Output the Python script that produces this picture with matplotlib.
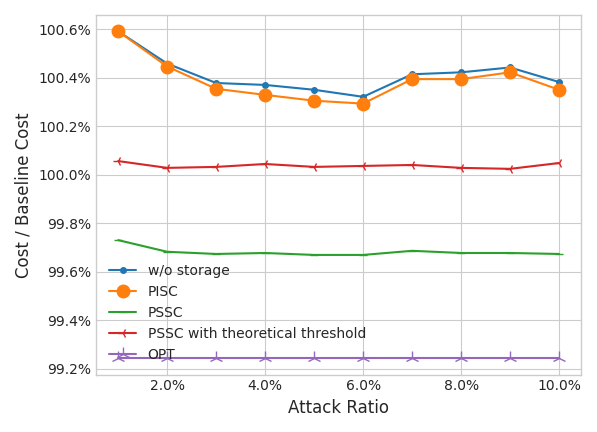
import numpy as np
import matplotlib
matplotlib.use('Agg')
import matplotlib.pyplot as plt
from matplotlib.ticker import FuncFormatter

plt.style.use('seaborn-v0_8-whitegrid')
plt.rcParams['font.family'] = ['DejaVu Sans']

ratio = [0.01, 0.02, 0.03, 0.04, 0.05, 0.06, 0.07, 0.08, 0.09, 0.10]
wo_storage = [100.592, 100.459, 100.379, 100.371, 100.351, 100.322, 100.415, 100.423, 100.443, 100.383]
pisc = [100.592, 100.447, 100.355, 100.330, 100.306, 100.294, 100.395, 100.395, 100.423, 100.351]
pssc = [99.731, 99.683, 99.674, 99.678, 99.670, 99.670, 99.687, 99.678, 99.678, 99.674]
pssc_theory = [100.057, 100.029, 100.033, 100.045, 100.033, 100.037, 100.041, 100.029, 100.025, 100.049]
opt = [99.244] * 10

fig, ax = plt.subplots(figsize=(5.97, 4.32), dpi=100)
ax.plot(ratio, np.array(wo_storage) / 100, marker='.', markersize=8, label='w/o storage')
ax.plot(ratio, np.array(pisc) / 100, marker='o', markersize=9, label='PISC')
ax.plot(ratio, np.array(pssc) / 100, marker='_', markersize=6, label='PSSC')
ax.plot(ratio, np.array(pssc_theory) / 100, marker='3', markersize=7, label='PSSC with theoretical threshold')
ax.plot(ratio, np.array(opt) / 100, marker='2', markersize=10, label='OPT')

ax.xaxis.set_major_formatter(FuncFormatter(lambda v, p: '%.1f%%' % (v * 100)))
ax.yaxis.set_major_formatter(FuncFormatter(lambda v, p: '%.1f%%' % (v * 100)))
ax.set_xticks([0.02, 0.04, 0.06, 0.08, 0.10])
ax.set_yticks(np.arange(0.992, 1.0061, 0.002))
ax.set_xlabel('Attack Ratio', fontsize=12)
ax.set_ylabel('Cost / Baseline Cost', fontsize=12)
for s in ax.spines.values():
    s.set_visible(True)
    s.set_color('#cccccc')
ax.legend(loc='lower left', frameon=False, fontsize=10)
fig.tight_layout()
fig.savefig('out.png')
